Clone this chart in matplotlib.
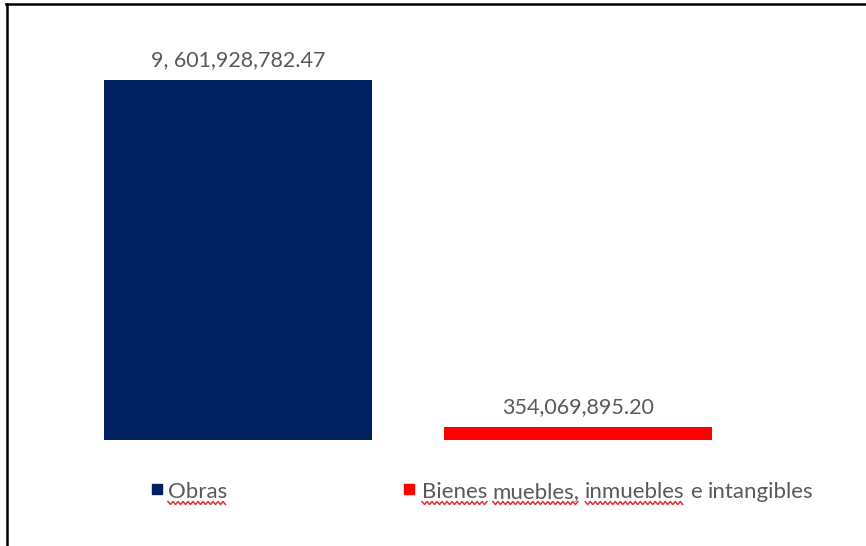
import matplotlib.pyplot as plt
from matplotlib.lines import Line2D
from matplotlib.patches import Rectangle

categories = ["Obras", "Bienes muebles, inmuebles e intangibles"]
values = [9601928782.47, 354069895.20]
value_labels = ["9, 601,928,782.47", "354,069,895.20"]
colors = ["#002060", "#FF0000"]

W, H = 866, 546
fig = plt.figure(figsize=(W / 100, H / 100), dpi=100)
fig.patch.set_facecolor("white")

# plot area placed in pixels
left, right, top, bottom = 61.2, 754.8, 46.2, 440
ax = fig.add_axes([left / W, 1 - bottom / H, (right - left) / W, (bottom - top) / H])
x = list(range(len(categories)))
ax.bar(x, values, width=0.788, color=colors)
ax.set_xlim(-0.52, 1.52)
ax.set_ylim(0, 10.5e9)
ax.axis("off")

for xi, v, lab in zip(x, values, value_labels):
    ax.annotate(lab, (xi, v), xytext=(0, 14), textcoords="offset points",
                ha="center", va="center", fontsize=15.5, color="#595959", family="Lato")

# frame lines (top and left only)
fig.add_artist(Line2D([6 / W, 1], [1 - 4 / H, 1 - 4 / H], color="black", lw=1.8,
                      transform=fig.transFigure))
fig.add_artist(Line2D([7 / W, 7 / W], [1 - 4 / H, 0], color="black", lw=1.8,
                      transform=fig.transFigure))

# legend drawn by hand
fig.canvas.draw()
renderer = fig.canvas.get_renderer()


def wave(x0, x1, y):
    xs, ys = [], []
    xx, up = x0, True
    while xx <= x1:
        xs.append(xx / W)
        ys.append((y + (1.5 if up else -1.5)) / H)
        xx += 2.5
        up = not up
    fig.add_artist(Line2D(xs, ys, color="#E03030", lw=1.1, transform=fig.transFigure))


def write_words(xpix, ypix, words, underline):
    for w, u in zip(words, underline):
        t = fig.text(xpix / W, 1 - ypix / H, w, fontsize=16, color="#595959",
                     family="Lato", va="center", ha="left")
        bb = t.get_window_extent(renderer)
        if u:
            wave(bb.x0, bb.x1, bb.y0 - 1)
        xpix += bb.width + 5.5


legend_x = [152, 404]
for lx, c in zip(legend_x, colors):
    fig.add_artist(Rectangle((lx / W, 1 - 494 / H), 10 / W, 10 / H, color=c,
                             transform=fig.transFigure))

write_words(168, 492, ["Obras"], [True])
write_words(422, 492, ["Bienes", "muebles,", "inmuebles", "e", "intangibles"],
            [True, True, True, False, False])

fig.savefig("out.png", dpi=100)
